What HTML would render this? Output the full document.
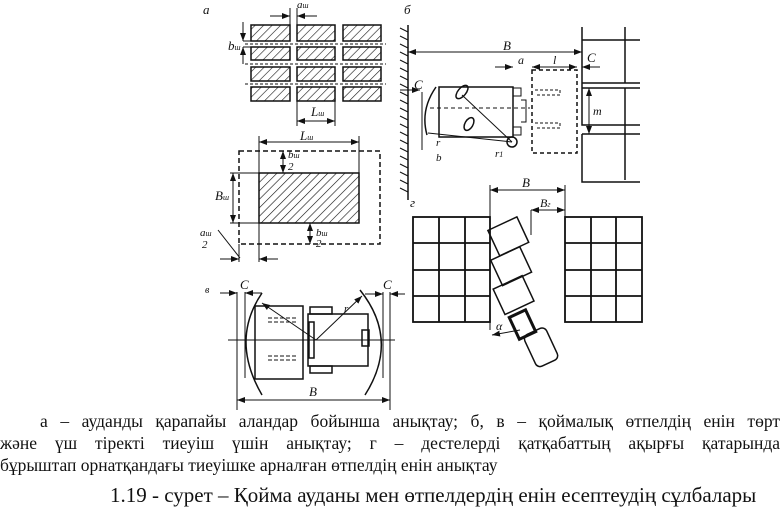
<!DOCTYPE html>
<html><head><meta charset="utf-8"><style>
body{margin:0;width:780px;height:511px;background:#fff;overflow:hidden;position:relative;font-family:"Liberation Serif",serif;}
svg{position:absolute;left:0;top:0}
.t{position:absolute;left:0;width:780px;font-size:17.5px;color:#111;white-space:nowrap}
</style></head><body>
<svg width="780" height="511" viewBox="0 0 780 511" font-family="Liberation Serif,serif" font-style="italic" fill="none" stroke="#111">
<defs>
<pattern id="h" width="6" height="6" patternUnits="userSpaceOnUse" patternTransform="rotate(45)"><line x1="0" y1="0" x2="0" y2="6" stroke="#111" stroke-width="1.2"/></pattern>
<marker id="a" markerWidth="8" markerHeight="6" refX="8" refY="3" orient="auto-start-reverse"><path d="M0,0L8,3L0,6z" fill="#111" stroke="none"/></marker>
</defs>
<g stroke-width="1.5">
<g fill="url(#h)">
<rect x="251" y="25" width="39" height="16"/><rect x="297" y="25" width="38" height="16"/><rect x="343" y="25" width="38" height="16"/>
<rect x="251" y="47" width="39" height="13"/><rect x="297" y="47" width="38" height="13"/><rect x="343" y="47" width="38" height="13"/>
<rect x="251" y="67" width="39" height="14"/><rect x="297" y="67" width="38" height="14"/><rect x="343" y="67" width="38" height="14"/>
<rect x="251" y="87" width="39" height="14"/><rect x="297" y="87" width="38" height="14"/><rect x="343" y="87" width="38" height="14"/>
</g>
<g stroke-dasharray="3,2" stroke-width="1"><line x1="245" y1="44" x2="386" y2="44"/><line x1="245" y1="64" x2="386" y2="64"/><line x1="245" y1="84" x2="386" y2="84"/></g>
<line x1="290" y1="8" x2="290" y2="25" stroke-width="1"/><line x1="297" y1="8" x2="297" y2="25" stroke-width="1"/>
<line x1="270" y1="16" x2="290" y2="16" stroke-width="1" marker-end="url(#a)"/><line x1="317" y1="16" x2="297" y2="16" stroke-width="1" marker-end="url(#a)"/>
<line x1="243" y1="41" x2="290" y2="41" stroke-width="1"/><line x1="243" y1="47" x2="290" y2="47" stroke-width="1"/>
<line x1="243" y1="22" x2="243" y2="41" stroke-width="1" marker-end="url(#a)"/><line x1="243" y1="64" x2="243" y2="47" stroke-width="1" marker-end="url(#a)"/>
<line x1="297" y1="101" x2="297" y2="126" stroke-width="1"/><line x1="335" y1="101" x2="335" y2="126" stroke-width="1"/>
<line x1="297" y1="121" x2="335" y2="121" stroke-width="1" marker-start="url(#a)" marker-end="url(#a)"/>
<rect x="239" y="151" width="141" height="93" stroke-dasharray="5,3"/>
<rect x="259" y="173" width="100" height="50" fill="url(#h)"/>
<line x1="259" y1="136" x2="259" y2="262" stroke-width="1"/><line x1="359" y1="136" x2="359" y2="173" stroke-width="1"/>
<line x1="259" y1="142" x2="359" y2="142" stroke-width="1" marker-start="url(#a)" marker-end="url(#a)"/>
<line x1="230" y1="173" x2="259" y2="173" stroke-width="1"/><line x1="230" y1="223" x2="259" y2="223" stroke-width="1"/>
<line x1="233" y1="173" x2="233" y2="223" stroke-width="1" marker-start="url(#a)" marker-end="url(#a)"/>
<line x1="283" y1="151" x2="283" y2="173" stroke-width="1" marker-start="url(#a)" marker-end="url(#a)"/>
<line x1="310" y1="223" x2="310" y2="244" stroke-width="1" marker-start="url(#a)" marker-end="url(#a)"/>
<line x1="239" y1="244" x2="239" y2="262" stroke-width="1"/>
<line x1="220" y1="259" x2="239" y2="259" stroke-width="1" marker-end="url(#a)"/><line x1="278" y1="259" x2="259" y2="259" stroke-width="1" marker-end="url(#a)"/>
<line x1="218" y1="230" x2="240" y2="258" stroke-width="1"/>
<line x1="408" y1="25" x2="408" y2="200"/>
<path d="M400,28 l8,4 M400,36 l8,4 M400,44 l8,4 M400,52 l8,4 M400,60 l8,4 M400,68 l8,4 M400,76 l8,4 M400,84 l8,4 M400,92 l8,4 M400,100 l8,4 M400,108 l8,4 M400,116 l8,4 M400,124 l8,4 M400,132 l8,4 M400,140 l8,4 M400,148 l8,4 M400,156 l8,4 M400,164 l8,4 M400,172 l8,4 M400,180 l8,4 M400,188 l8,4" stroke-width="1"/>
<line x1="408" y1="52" x2="582" y2="52" stroke-width="1" marker-start="url(#a)" marker-end="url(#a)"/>
<path d="M582,27 V83 H640 M582,40 H640 M582,83 V88 H640 M625,27 V83 M582,134 V182 H640 M582,134 H640 M625,88 V180 M582,88 V125 H640" />
<rect x="532" y="70" width="45" height="83" stroke-dasharray="4,3"/>
<line x1="495" y1="67" x2="513" y2="67" stroke-width="1" marker-end="url(#a)"/><line x1="532" y1="67" x2="577" y2="67" stroke-width="1" marker-start="url(#a)" marker-end="url(#a)"/>
<line x1="600" y1="67" x2="582" y2="67" stroke-width="1" marker-end="url(#a)"/>
<line x1="589" y1="88" x2="589" y2="134" stroke-width="1" marker-start="url(#a)" marker-end="url(#a)"/>
<rect x="439" y="87" width="74" height="50"/>
<path d="M513,88 h8 v8 h-8 M513,127 h8 v8 h-8 M521,100 h5 v22 h-5" stroke-width="1"/>
<path d="M436,87 Q420,110 427,135" />
<line x1="430" y1="108" x2="530" y2="108" stroke-dasharray="4,3" stroke-width="1"/>
<path d="M535,90 h25 v5 h-25 M535,123 h25 v5 h-25" stroke-dasharray="3,2" stroke-width="1"/>
<ellipse cx="462" cy="92" rx="8" ry="4" transform="rotate(-50 462 92)"/><ellipse cx="469" cy="124" rx="7" ry="4" transform="rotate(-60 469 124)"/>
<circle cx="512" cy="142" r="5"/><line x1="462" y1="95" x2="512" y2="142" stroke-width="1"/><line x1="428" y1="133" x2="512" y2="142" stroke-width="1"/>
<line x1="422" y1="92" x2="422" y2="150" stroke-width="1"/><line x1="400" y1="90" x2="420" y2="90" stroke-width="1" marker-end="url(#a)"/>
<g stroke-width="1.8">
<rect x="413" y="217" width="77" height="105"/><path d="M439,217V322M465,217V322M413,243H490M413,270H490M413,296H490"/>
<rect x="565" y="217" width="77" height="105"/><path d="M591,217V322M616,217V322M565,243H642M565,270H642M565,296H642"/>
</g>
<line x1="490" y1="185" x2="490" y2="330" stroke-width="1"/><line x1="565" y1="185" x2="565" y2="217" stroke-width="1"/>
<line x1="490" y1="190" x2="565" y2="190" stroke-width="1" marker-start="url(#a)" marker-end="url(#a)"/>
<line x1="531" y1="210" x2="565" y2="210" stroke-width="1" marker-start="url(#a)" marker-end="url(#a)"/>
<line x1="531" y1="210" x2="531" y2="235" stroke-width="1"/>
<g transform="rotate(-25 510 240)"><rect x="494" y="222" width="32" height="28"/></g>
<g transform="rotate(-25 512 268)"><rect x="496" y="252" width="32" height="28"/></g>
<g transform="rotate(-25 514 296)"><rect x="498" y="281" width="32" height="28"/></g>
<g transform="rotate(-25 525 330)"><rect x="516" y="312" width="18" height="24" stroke-width="3"/></g>
<g transform="rotate(-25 540 345)"><rect x="528" y="330" width="24" height="35" rx="5"/></g>
<line x1="492" y1="335" x2="520" y2="330" stroke-width="1" marker-start="url(#a)"/>
<path d="M262,293 Q230,340 262,395 M360,290 Q400,340 365,395"/>
<line x1="245" y1="292" x2="245" y2="378" stroke-width="1"/><line x1="237" y1="292" x2="237" y2="410" stroke-width="1"/>
<line x1="383" y1="292" x2="383" y2="378" stroke-width="1"/><line x1="390" y1="292" x2="390" y2="410" stroke-width="1"/>
<line x1="228" y1="340" x2="395" y2="340" stroke-width="1"/>
<rect x="255" y="306" width="48" height="73"/>
<path d="M268,318 h30 M268,322 h30 M268,356 h30 M268,360 h30" stroke-dasharray="4,2" stroke-width="1"/>
<rect x="308" y="314" width="60" height="52"/><rect x="310" y="307" width="22" height="7"/><rect x="310" y="366" width="22" height="7"/>
<rect x="309" y="322" width="5" height="36"/><rect x="362" y="330" width="7" height="16"/>
<line x1="316" y1="340" x2="262" y2="303" stroke-width="1" marker-end="url(#a)"/><line x1="316" y1="340" x2="362" y2="296" stroke-width="1" marker-end="url(#a)"/>
<line x1="220" y1="293" x2="237" y2="293" stroke-width="1" marker-end="url(#a)"/><line x1="262" y1="293" x2="245" y2="293" stroke-width="1" marker-end="url(#a)"/>
<line x1="365" y1="294" x2="383" y2="294" stroke-width="1" marker-end="url(#a)"/><line x1="405" y1="294" x2="390" y2="294" stroke-width="1" marker-end="url(#a)"/>
<line x1="237" y1="400" x2="390" y2="400" stroke-width="1" marker-start="url(#a)" marker-end="url(#a)"/>
</g>
<g fill="#111" stroke="none" font-size="13">
<text x="203" y="14">а</text><text x="297" y="8" font-size="11">a<tspan font-size="8">ш</tspan></text>
<text x="228" y="50">b<tspan font-size="8">ш</tspan></text><text x="311" y="116">L<tspan font-size="8">ш</tspan></text>
<text x="300" y="140">L<tspan font-size="8">ш</tspan></text><text x="288" y="158" font-size="11">b<tspan font-size="8">ш</tspan></text><text x="288" y="170" font-size="11">2</text>
<text x="215" y="200">B<tspan font-size="8">ш</tspan></text><text x="316" y="236" font-size="11">b<tspan font-size="8">ш</tspan></text><text x="316" y="247" font-size="11">2</text>
<text x="200" y="236" font-size="11">a<tspan font-size="8">ш</tspan></text><text x="202" y="248" font-size="11">2</text>
<text x="404" y="14">б</text><text x="503" y="50">B</text><text x="518" y="64" font-size="12">a</text><text x="553" y="64" font-size="12">l</text>
<text x="587" y="62">C</text><text x="414" y="89">C</text><text x="593" y="115" font-size="12">m</text>
<text x="436" y="146" font-size="11">r</text><text x="436" y="161" font-size="11">b</text><text x="495" y="157" font-size="11">r<tspan font-size="8">1</tspan></text>
<text x="410" y="207">г</text><text x="522" y="187">B</text><text x="540" y="207" font-size="12">B<tspan font-size="8">г</tspan></text>
<text x="496" y="330" font-size="12">α</text>
<text x="205" y="293" font-size="10">в</text><text x="240" y="289">C</text><text x="383" y="289">C</text>
<text x="344" y="312" font-size="11">r</text><text x="309" y="396">B</text>
</g>
</svg>
<div class="t" style="top:411px;left:40px;width:740px;text-align:justify;text-align-last:justify">а – ауданды қарапайы аландар бойынша анықтау; б, в – қоймалық өтпелдің енін төрт</div>
<div class="t" style="top:433px;text-align:justify;text-align-last:justify">және үш тіректі тиеуіш үшін анықтау; г – дестелерді қатқабаттың ақырғы қатарында</div>
<div class="t" style="top:455px">бұрыштап орнатқандағы тиеуішке арналған өтпелдің енін анықтау</div>
<div class="t" style="top:483px;left:110px;font-size:21px">1.19 - сурет – Қойма ауданы мен өтпелдердің енін есептеудің сұлбалары</div>
</body></html>
